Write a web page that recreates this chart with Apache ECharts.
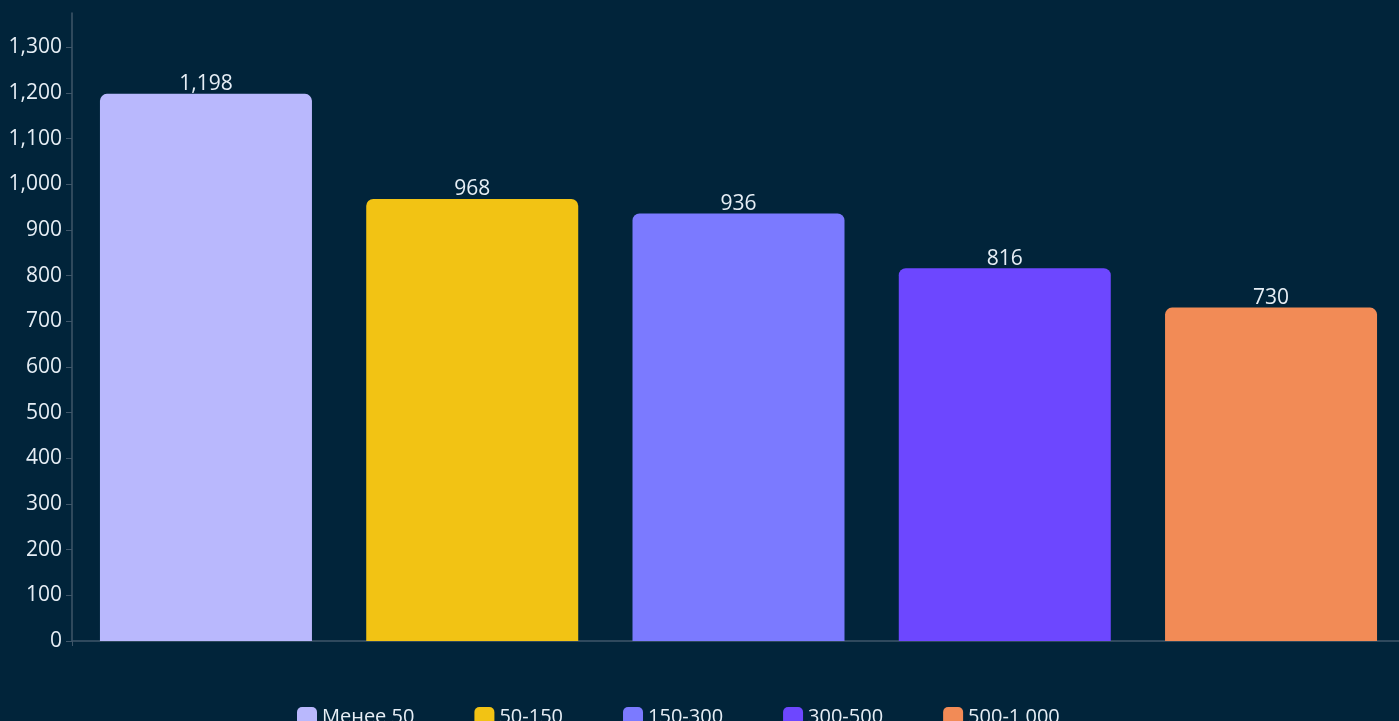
<!DOCTYPE html>
<html>
<head>
<meta charset="utf-8">
<style>
  html, body { margin: 0; padding: 0; background: #01243a; }
  #chart { width: 1399px; height: 721px; }
</style>
<script src="https://cdn.jsdelivr.net/npm/echarts@6/dist/echarts.min.js"></script>
</head>
<body>
<div id="chart"></div>
<script>
// Size groups and their counts
const groups = ['Менее 50', '50-150', '150-300', '300-500', '500-1 000'];
const counts = [1198, 968, 936, 816, 730];
const colors = ['#b9b8fd', '#f2c314', '#7b7aff', '#6d47ff', '#f28b56'];
const yTicks = [0, 100, 200, 300, 400, 500, 600, 700, 800, 900, 1000, 1100, 1200, 1300];

const chart = echarts.init(document.getElementById('chart'));

const series = groups.map((name, i) => ({
  name: name,
  type: 'bar',
  data: [counts[i]],
  barWidth: 212,
  barGap: '25.6%',
  itemStyle: { color: colors[i], borderRadius: [7, 7, 0, 0] },
  label: {
    show: true,
    position: 'top',
    distance: -1,
    color: '#e6eef5',
    fontFamily: 'Open Sans',
    fontSize: 21,
    formatter: p => p.value.toLocaleString('en-US')
  }
}));

chart.setOption({
  backgroundColor: '#01243a',
  animation: false,
  // the plot runs slightly past the right edge of the canvas
  grid: { left: 72, right: -6, top: 13, bottom: 80, containLabel: false, outerBoundsMode: 'none' },
  legend: {
    data: groups.map(n => ({ name: n, icon: 'roundRect' })),
    top: 702,
    left: 292,
    itemWidth: 20,
    itemHeight: 20,
    itemGap: 60,
    textStyle: { color: '#e6eef5', fontFamily: 'Open Sans', fontSize: 20 }
  },
  xAxis: {
    type: 'category',
    data: [''],
    axisLine: { lineStyle: { color: '#3f5669', width: 1.5 } },
    axisTick: { show: true, length: 5, lineStyle: { color: '#3f5669' } },
    axisLabel: { show: false }
  },
  yAxis: {
    type: 'value',
    min: 0,
    max: 1375,
    interval: 100,
    splitLine: { show: false },
    axisLine: { show: true, lineStyle: { color: '#3f5669', width: 1.5 } },
    axisTick: { show: true, length: 6, customValues: yTicks, lineStyle: { color: '#3f5669' } },
    axisLabel: {
      customValues: yTicks,
      color: '#e6eef5',
      fontFamily: 'Open Sans',
      fontSize: 21,
      margin: 10,
      formatter: v => v.toLocaleString('en-US')
    }
  },
  series: series
});
</script>
</body>
</html>
